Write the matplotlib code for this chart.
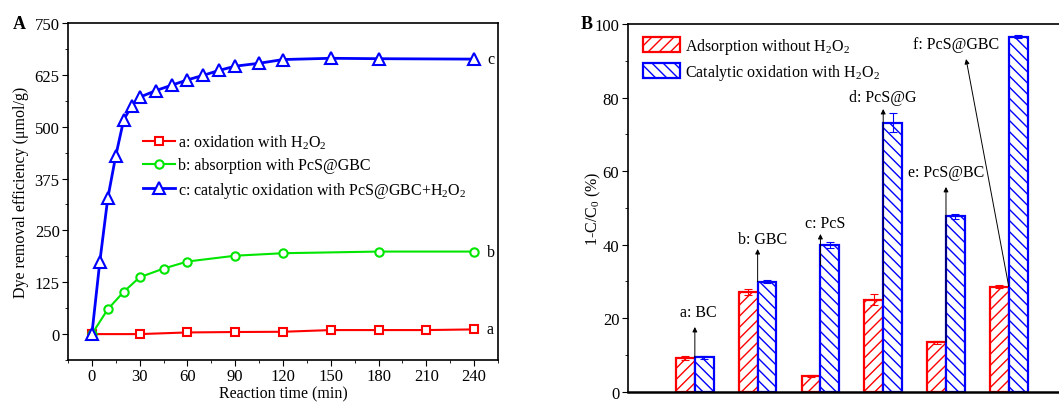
"""Two-panel figure: dye removal kinetics (A) and removal comparison (B)."""
import matplotlib
matplotlib.use('Agg')
import matplotlib.pyplot as plt
from matplotlib.ticker import MultipleLocator
import numpy as np

plt.rcParams['font.family'] = ['Liberation Serif', 'DejaVu Serif']
plt.rcParams['mathtext.fontset'] = 'custom'
plt.rcParams['mathtext.rm'] = 'Liberation Serif'
plt.rcParams['hatch.linewidth'] = 1.0

# --- Panel A data ---
t_a = [0, 30, 60, 90, 120, 150, 180, 210, 240]
y_a = [0, 0, 4, 5, 5.6, 9.7, 9.7, 9.7, 11.3]
t_b = [0, 10, 20, 30, 45, 60, 90, 120, 180, 240]
y_b = [0, 60, 102, 137, 158, 175, 189, 195, 199, 199]
t_c = [0, 5, 10, 15, 20, 25, 30, 40, 50, 60, 70, 80, 90, 105, 120, 150, 180, 240]
y_c = [0, 175, 328, 430, 517, 550, 571, 587, 600, 613, 624, 636, 646, 653, 662, 665, 664, 663]

# --- Panel B data ---
samples = ["a: BC", "b: GBC", "c: PcS", "d: PcS@G", "e: PcS@BC", "f: PcS@GBC"]
adsorption = [9.2, 27.2, 4.3, 25.0, 13.4, 28.6]
adsorption_err = [0.5, 0.8, 0.3, 1.5, 0.3, 0.3]
catalytic = [9.3, 29.9, 39.9, 73.2, 47.7, 96.6]
catalytic_err = [0.4, 0.4, 0.9, 2.5, 0.7, 0.3]

FS = 11.5
TFS = 12

fig = plt.figure(figsize=(10.59, 4.06), dpi=100)

# ---------------- Panel A ----------------
ax = fig.add_axes([0.0642, 0.1108, 0.4061, 0.8300])
ax.plot(t_a, y_a, '-s', color='#ff0000', lw=1.5, ms=6, mfc='white', mew=1.5,
        label='a: oxidation with H$_2$O$_2$')
ax.plot(t_b, y_b, '-o', color='#00e600', lw=1.5, ms=6, mfc='white', mew=1.5,
        label='b: absorption with PcS@GBC')
ax.plot(t_c, y_c, '-^', color='#0000ff', lw=2.0, ms=8, mfc='white', mew=1.5,
        label='c: catalytic oxidation with PcS@GBC+H$_2$O$_2$')
ax.set_xlim(-15, 255)
ax.set_ylim(-62.5, 750)
ax.xaxis.set_major_locator(MultipleLocator(30))
ax.xaxis.set_minor_locator(MultipleLocator(15))
ax.yaxis.set_major_locator(MultipleLocator(125))
ax.yaxis.set_minor_locator(MultipleLocator(62.5))
ax.tick_params(which='both', direction='out', labelsize=TFS, top=False, right=False)
ax.tick_params(which='major', length=4, pad=2)
ax.tick_params(which='minor', length=2.5)
for s in ax.spines.values():
    s.set_linewidth(1.2)
ax.set_xlabel('Reaction time (min)', fontsize=FS, labelpad=1)
ax.set_ylabel('Dye removal efficiency (μmol/g)', fontsize=FS, labelpad=4)
for lab, yy in zip(['a', 'b', 'c'], [y_a[-1], y_b[-1], y_c[-1]]):
    ax.text(248, yy, lab, fontsize=FS, va='center', ha='left')
ax.legend(loc='upper left', bbox_to_anchor=(0.155, 0.70), frameon=False,
          fontsize=FS, handlelength=2.0, handletextpad=0.2, labelspacing=0.4,
          borderpad=0)
fig.text(0.012, 0.94, 'A', fontsize=13, fontweight='bold', va='center')

# ---------------- Panel B ----------------
bx = fig.add_axes([0.5927, 0.0328, 0.4073, 0.9054])
x = np.arange(1, len(samples) + 1)
w = 0.30
bx.bar(x - w / 2, adsorption, w, yerr=adsorption_err, color='white',
       edgecolor='#ff0000', hatch='///', linewidth=1.6,
       error_kw=dict(ecolor='#ff0000', elinewidth=0.8, capsize=3, capthick=0.8),
       label='Adsorption without H$_2$O$_2$')
bx.bar(x + w / 2, catalytic, w, yerr=catalytic_err, color='white',
       edgecolor='#0000ff', hatch='\\\\\\', linewidth=1.6,
       error_kw=dict(ecolor='#0000ff', elinewidth=0.8, capsize=3, capthick=0.8),
       label='Catalytic oxidation with H$_2$O$_2$')
bx.set_xlim(-0.07, 6.8)
bx.set_ylim(0, 100)
bx.yaxis.set_major_locator(MultipleLocator(20))
bx.yaxis.set_minor_locator(MultipleLocator(10))
bx.set_xticks([])
bx.tick_params(which='both', direction='out', labelsize=TFS, right=False)
bx.tick_params(which='major', length=4, pad=2)
bx.tick_params(which='minor', length=2.5)
bx.spines['right'].set_visible(False)
bx.spines['bottom'].set_linewidth(1.8)
bx.spines['left'].set_linewidth(1.2)
bx.spines['top'].set_linewidth(1.2)
bx.set_ylabel('1-C/C$_0$ (%)', fontsize=FS, labelpad=-6)
bx.legend(loc='upper left', bbox_to_anchor=(0.018, 0.99), frameon=False,
          fontsize=FS, handlelength=2.3, handleheight=1.1, handletextpad=0.3,
          labelspacing=0.4, borderpad=0)

# annotation arrows: label position, arrow tail and arrow head
ann_tx = [1.06, 2.08, 3.08, 3.99, 5.01, 5.16]
ann_ty = [21.7, 41.5, 45.9, 80.1, 59.7, 94.6]
arr_x0 = [1.0, 2.0, 3.0, 4.0, 5.0, 6.0]
arr_y0 = [9.2, 29.9, 34.3, 25.0, 13.4, 28.6]
arr_x1 = [1.0, 2.0, 3.0, 4.0, 5.0, 5.32]
arr_y1 = [17.6, 38.8, 42.9, 76.9, 55.7, 90.5]
for s, tx, ty, x0, y0, x1, y1 in zip(samples, ann_tx, ann_ty, arr_x0, arr_y0, arr_x1, arr_y1):
    bx.text(tx, ty, s, fontsize=FS, ha='center', va='center')
    bx.annotate('', xy=(x1, y1), xytext=(x0, y0), zorder=5,
                arrowprops=dict(arrowstyle='-|>', color='black', lw=0.7,
                                mutation_scale=7, shrinkA=0, shrinkB=0))
fig.text(0.548, 0.94, 'B', fontsize=13, fontweight='bold', va='center')

fig.savefig('out.png', dpi=100)
